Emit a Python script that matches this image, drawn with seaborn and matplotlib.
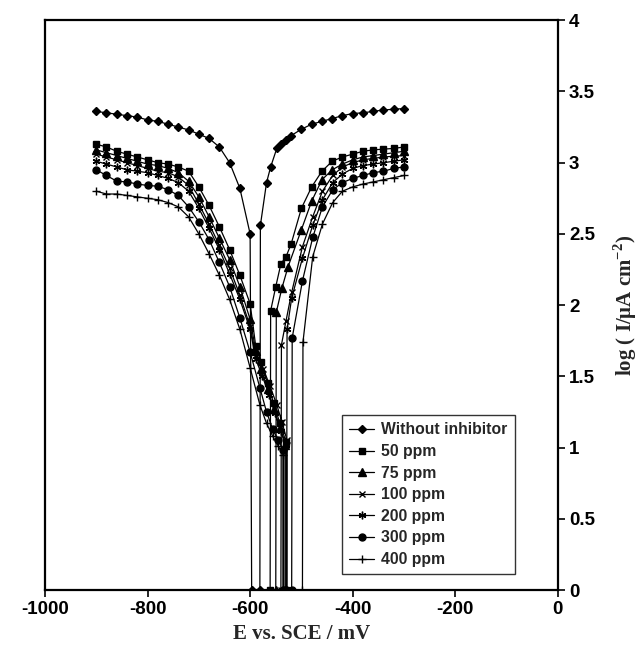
import numpy as np
import pandas as pd
import matplotlib
matplotlib.use("Agg")
import matplotlib.pyplot as plt
import seaborn as sns

# potentials of the cathodic points shared by all curves (mV)
e_cath_base = [-900, -880, -860, -840, -820, -800, -780, -760, -740, -720,
               -700, -680, -660, -640, -620, -600]

# Without inhibitor
e_blank_c = e_cath_base + [-597]
i_blank_c = [3.36, 3.35, 3.34, 3.33, 3.32, 3.30, 3.29, 3.27, 3.25, 3.23,
             3.20, 3.17, 3.11, 3.00, 2.82, 2.50, 0.0]
e_blank_a = [-581, -580, -568, -560, -548, -540, -530, -520, -500, -480,
             -460, -440, -420, -400, -380, -360, -340, -320, -300]
i_blank_a = [0.0, 2.56, 2.86, 2.97, 3.10, 3.13, 3.16, 3.19, 3.235, 3.27,
             3.29, 3.31, 3.33, 3.345, 3.35, 3.36, 3.37, 3.375, 3.38]

# 50 ppm
e_50_c = e_cath_base + [-589, -578, -566, -554, -542, -530, -530]
i_50_c = [3.13, 3.11, 3.08, 3.06, 3.04, 3.02, 3.00, 2.99, 2.97, 2.94,
          2.83, 2.70, 2.55, 2.39, 2.21, 2.01, 1.71, 1.60, 1.45, 1.31, 1.17, 1.04, 0.0]
e_50_a = [-561, -560, -550, -540, -530, -520, -500, -480, -460, -440,
          -420, -400, -380, -360, -340, -320, -300]
i_50_a = [0.0, 1.96, 2.13, 2.29, 2.34, 2.43, 2.68, 2.83, 2.94, 3.01,
          3.04, 3.06, 3.08, 3.09, 3.095, 3.10, 3.11]

# 75 ppm
e_75_c = e_cath_base + [-589, -578, -566, -554, -542, -532, -532]
i_75_c = [3.09, 3.07, 3.05, 3.03, 3.01, 2.99, 2.98, 2.96, 2.93, 2.87,
          2.76, 2.62, 2.47, 2.32, 2.13, 1.90, 1.68, 1.55, 1.41, 1.27, 1.14, 1.02, 0.0]
e_75_a = [-550, -549, -538, -526, -500, -480, -460, -440, -420, -400,
          -380, -360, -340, -320, -300]
i_75_a = [0.0, 1.95, 2.12, 2.27, 2.53, 2.73, 2.88, 2.95, 2.99, 3.02,
          3.04, 3.05, 3.06, 3.07, 3.08]

# 100 ppm
e_100_c = e_cath_base + [-589, -574, -561, -548, -538, -528, -528]
i_100_c = [3.06, 3.04, 3.02, 3.00, 2.98, 2.96, 2.94, 2.93, 2.90, 2.84,
           2.71, 2.57, 2.42, 2.26, 2.07, 1.85, 1.65, 1.55, 1.43, 1.30, 1.18, 1.05, 0.0]
e_100_a = [-540, -539, -530, -519, -498, -478, -459, -439, -420, -400,
           -380, -360, -340, -320, -300]
i_100_a = [0.0, 1.72, 1.89, 2.09, 2.41, 2.62, 2.80, 2.91, 2.97, 3.00,
           3.02, 3.03, 3.04, 3.045, 3.05]

# 200 ppm
e_200_c = e_cath_base + [-589, -576, -563, -551, -540, -530, -530]
i_200_c = [3.01, 2.99, 2.97, 2.95, 2.94, 2.93, 2.91, 2.89, 2.86, 2.80,
           2.68, 2.54, 2.39, 2.22, 2.04, 1.83, 1.62, 1.50, 1.37, 1.24, 1.12, 1.02, 0.0]
e_200_a = [-529, -528, -519, -498, -478, -459, -439, -420, -400, -380,
           -360, -340, -320, -300]
i_200_a = [0.0, 1.83, 2.05, 2.33, 2.56, 2.74, 2.86, 2.92, 2.96, 2.98,
           2.99, 3.00, 3.01, 3.02]

# 300 ppm
e_300_c = e_cath_base + [-581, -568, -556, -545, -535, -535]
i_300_c = [2.95, 2.91, 2.87, 2.865, 2.85, 2.84, 2.835, 2.81, 2.77, 2.69,
           2.585, 2.46, 2.30, 2.13, 1.91, 1.67, 1.42, 1.25, 1.13, 1.05, 0.98, 0.0]
e_300_a = [-519, -518, -498, -478, -459, -439, -420, -400, -380, -360,
           -340, -320, -300]
i_300_a = [0.0, 1.77, 2.17, 2.475, 2.69, 2.81, 2.86, 2.89, 2.91, 2.93,
           2.94, 2.96, 2.97]

# 400 ppm
e_400_c = e_cath_base + [-581, -568, -556, -545, -536, -536]
i_400_c = [2.80, 2.78, 2.78, 2.77, 2.76, 2.75, 2.74, 2.72, 2.69, 2.62,
           2.50, 2.36, 2.21, 2.04, 1.83, 1.56, 1.30, 1.17, 1.08, 1.01, 0.95, 0.0]
e_400_a = [-498, -497, -478, -459, -439, -420, -400, -380, -360, -340,
           -320, -300]
i_400_a = [0.0, 1.74, 2.34, 2.57, 2.72, 2.80, 2.83, 2.85, 2.865, 2.88,
           2.895, 2.91]

labels = ["Without inhibitor", "50 ppm", "75 ppm", "100 ppm", "200 ppm", "300 ppm", "400 ppm"]
curves = [
    (e_blank_c + e_blank_a, i_blank_c + i_blank_a),
    (e_50_c + e_50_a, i_50_c + i_50_a),
    (e_75_c + e_75_a, i_75_c + i_75_a),
    (e_100_c + e_100_a, i_100_c + i_100_a),
    (e_200_c + e_200_a, i_200_c + i_200_a),
    (e_300_c + e_300_a, i_300_c + i_300_a),
    (e_400_c + e_400_a, i_400_c + i_400_a),
]
markers = ["D", "s", "^", "x", (6, 2, 0), "o", "+"]
msizes = [4.3, 4.8, 5.2, 5.0, 5.5, 5.0, 6.0]

sns.set_style("white")
plt.rcParams['font.family'] = ['Liberation Sans', 'DejaVu Sans']
plt.rcParams['axes.unicode_minus'] = False
plt.rcParams['mathtext.fontset'] = 'custom'
plt.rcParams['mathtext.rm'] = 'Liberation Serif:bold'
plt.rcParams['mathtext.bf'] = 'Liberation Serif:bold'

fig = plt.figure(figsize=(6.42, 6.52), dpi=100)
ax = fig.add_axes([0.070, 0.095, 0.799, 0.874])

for (e, i), lab, m, ms in zip(curves, labels, markers, msizes):
    df = pd.DataFrame({"E": e, "logI": i})
    sns.lineplot(data=df, x="E", y="logI", sort=False, estimator=None,
                 color="black", linewidth=0.9, marker=m, markersize=ms,
                 markeredgecolor="black", markerfacecolor="black",
                 markeredgewidth=1.0, label=lab, ax=ax)

ax.set_xlim(-1000, 0)
ax.set_ylim(0, 4)
ax.set_xticks(np.arange(-1000, 1, 200))
ax.set_yticks(np.arange(0, 4.01, 0.5))
ax.set_yticklabels(["0", "0.5", "1", "1.5", "2", "2.5", "3", "3.5", "4"])
ax.yaxis.tick_right()
ax.yaxis.set_label_position("right")
ax.tick_params(axis="both", which="major", direction="out", length=5, width=1.2,
               labelsize=13.5, colors="black", pad=3)
ax.tick_params(axis="x", bottom=True, top=False)
ax.tick_params(axis="y", right=True, left=False)
for lbl in ax.get_xticklabels() + ax.get_yticklabels():
    lbl.set_fontweight("bold")
for sp in ax.spines.values():
    sp.set_color("black")
    sp.set_linewidth(1.6)

ax.set_xlabel("E vs. SCE / mV", fontsize=15, fontweight="bold",
              family="Liberation Serif", labelpad=4)
ax.set_ylabel(r"log ( I/μA cm$^{\mathbf{-2}}$)", fontsize=15, fontweight="bold",
              family="Liberation Serif", labelpad=12, rotation=90)

leg = ax.legend(loc="lower right", bbox_to_anchor=(0.916, 0.028), borderaxespad=0,
                frameon=True, fancybox=False, edgecolor="black",
                prop={"weight": "bold", "size": 11.3}, handlelength=1.6,
                labelspacing=0.42, borderpad=0.45, handletextpad=0.45)
leg.get_frame().set_linewidth(1.0)

fig.savefig("out.png", dpi=100)
